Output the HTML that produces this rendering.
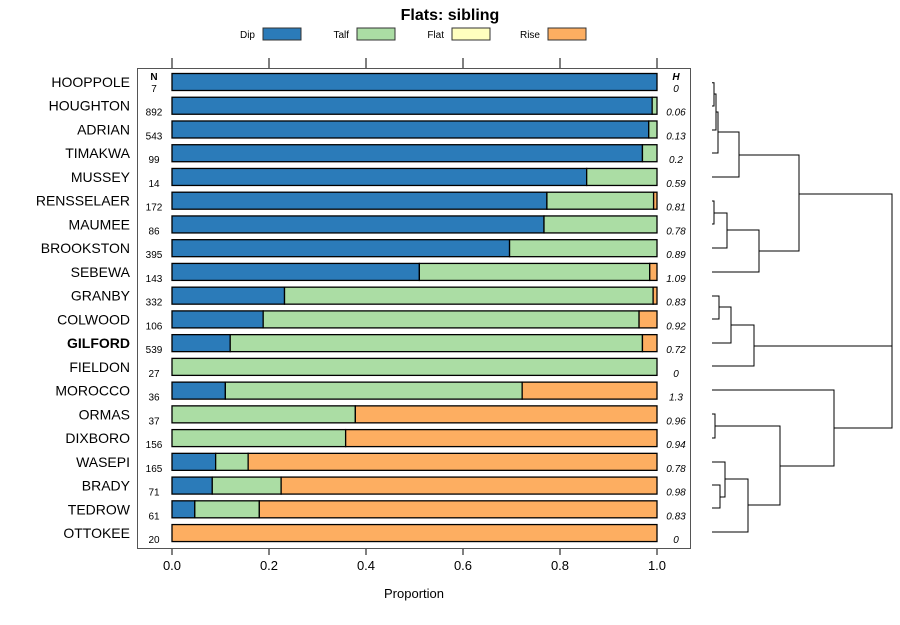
<!DOCTYPE html>
<html><head><meta charset="utf-8"><style>
body{margin:0;background:#fff;font-family:"Liberation Sans",sans-serif}
</style></head><body>
<svg id="c" width="900" height="620" xmlns="http://www.w3.org/2000/svg" font-family="Liberation Sans, sans-serif"></svg>
<script>
const categories=["HOOPPOLE","HOUGHTON","ADRIAN","TIMAKWA","MUSSEY","RENSSELAER","MAUMEE","BROOKSTON","SEBEWA","GRANBY","COLWOOD","GILFORD","FIELDON","MOROCCO","ORMAS","DIXBORO","WASEPI","BRADY","TEDROW","OTTOKEE"];
const dip =[1,0.99,0.983,0.97,0.855,0.773,0.767,0.696,0.51,0.232,0.188,0.12,0,0.11,0,0,0.09,0.083,0.047,0];
const talf=[0,0.01,0.017,0.03,0.145,0.22,0.233,0.304,0.475,0.76,0.775,0.85,1,0.612,0.378,0.358,0.067,0.142,0.133,0];
const flat=[0,0,0,0,0,0,0,0,0,0,0,0,0,0,0,0,0,0,0,0];
const rise=[0,0,0,0,0,0.007,0,0,0.015,0.008,0.037,0.03,0,0.278,0.622,0.642,0.843,0.775,0.82,1];
const nVals=[7,892,543,99,14,172,86,395,143,332,106,539,27,36,37,156,165,71,61,20];
const hVals=["0","0.06","0.13","0.2","0.59","0.81","0.78","0.89","1.09","0.83","0.92","0.72","0","1.3","0.96","0.94","0.78","0.98","0.83","0"];
const ticks=[0,0.2,0.4,0.6,0.8,1];
const seriesNames=["Dip","Talf","Flat","Rise"];
const colors=["#2b7bb9","#abdda4","#ffffbf","#fdae61"];
const svg=document.getElementById('c');const NS="http://www.w3.org/2000/svg";
function el(t,a,p){const e=document.createElementNS(NS,t);for(const k in a)e.setAttribute(k,a[k]);(p||svg).appendChild(e);return e;}
const X=v=>172+v*485, Y=i=>82+i*23.74;
let t=el('text',{x:450,y:20,'text-anchor':'middle','font-size':16,'font-weight':'bold'});t.textContent="Flats: sibling";


const lx=[255,349,444,540];
seriesNames.forEach((s,k)=>{
 const g=el('g',{});
 
 
 const tt=el('text',{x:lx[k],y:38,'text-anchor':'end','font-size':10},g);tt.textContent=s;
 el('rect',{x:lx[k]+8,y:28,width:38,height:12,fill:colors[k],stroke:'#333','stroke-width':1},g);
});
const box=el('rect',{x:137.5,y:68.5,width:553,height:480,fill:'none',stroke:'#555'});


ticks.forEach(v=>{
 el('line',{x1:X(v),x2:X(v),y1:58,y2:68,stroke:'#000'});
 el('line',{x1:X(v),x2:X(v),y1:549,y2:555,stroke:'#000'});
 const tl=el('text',{x:X(v),y:570,'text-anchor':'middle','font-size':13});tl.textContent=v.toFixed(1);
 
 
});
const xt=el('text',{x:414,y:598,'text-anchor':'middle','font-size':13});xt.textContent="Proportion";


let hn=el('text',{x:154,y:80,'text-anchor':'middle','font-size':10,'font-weight':'bold'});hn.textContent="N";
let hh=el('text',{x:676,y:80,'text-anchor':'middle','font-size':10,'font-weight':'bold','font-style':'italic'});hh.textContent="H";
categories.forEach((c,i)=>{
 const y=Y(i);
 const lb=el('text',{x:130,y:y+5,'text-anchor':'end','font-size':14,'font-weight':c==="GILFORD"?'bold':'normal'});lb.textContent=c;
 
 
 const vals=[dip[i],talf[i],flat[i],rise[i]];let acc=0;
 vals.forEach((v,k)=>{ if(v>0){const r=el('rect',{x:X(acc),y:y-8.5,width:X(acc+v)-X(acc),height:17,fill:colors[k],stroke:'#000','stroke-width':1.3});
  
  } acc+=v;});
 const nt=el('text',{x:154,y:y+10,'text-anchor':'middle','font-size':10});nt.textContent=nVals[i];
 const ht=el('text',{x:676,y:y+10,'text-anchor':'middle','font-size':10,'font-style':'italic'});ht.textContent=hVals[i];
});
const d="M712,82.7H714V106H712 M714,94H716V130H712 M716,112H718V153H712 M718,132H739V177H712 M739,155H799V251H759 M712,201H714V224H712 M714,213H727V248H712 M727,230H759V272H712 M799,194H892V428H834 M712,296H719V319H712 M719,307H731V343H712 M731,325H754V366H712 M754,346H892 M712,390H834V466H780 M712,414H715V438H712 M715,426H780V505H748 M712,462H725V497H720 M712,485H720V508H712 M725,479H748V532H712";
const dp=el('path',{d:d,fill:'none',stroke:'#000','stroke-width':1});


</script>
</body></html>
